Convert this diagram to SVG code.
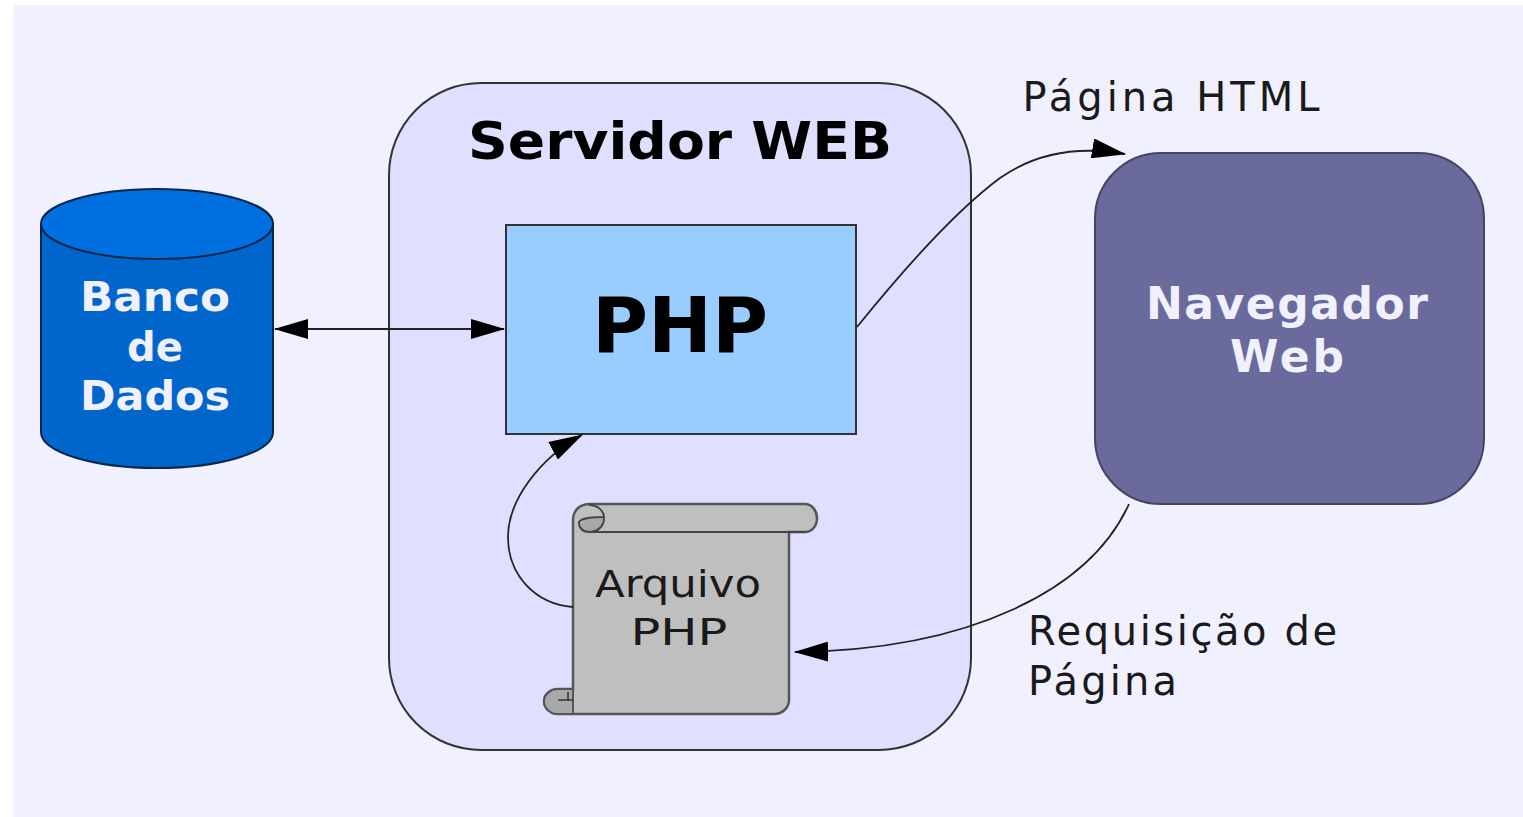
<svg xmlns="http://www.w3.org/2000/svg" width="1523" height="817" viewBox="0 0 1523 817">
<defs>
<marker id="ah" viewBox="0 0 34 20" refX="33" refY="10" markerWidth="34" markerHeight="20" markerUnits="userSpaceOnUse" orient="auto-start-reverse"><path d="M0 0L34 10L0 20Z" fill="#000"/></marker>
</defs>
<style>
text{font-family:"DejaVu Sans","Liberation Sans",sans-serif;text-anchor:middle}
.b{font-weight:700}
.c{fill:none;stroke:#222;stroke-width:1.8}
.o{stroke:#333;stroke-width:2}
</style>
<rect width="1523" height="817" fill="#fff"/>
<rect x="13" y="5" width="1510" height="812" fill="#f0f0ff"/>
<g id="servidor">
<rect class="o" x="389" y="83" width="582" height="667" rx="92" ry="92" fill="#dfdfff"/>
<text class="b" x="680" y="159" font-size="52" fill="#000" textLength="424" lengthAdjust="spacingAndGlyphs">Servidor WEB</text>
</g>
<g id="php">
<rect class="o" x="506" y="225" width="350" height="209" fill="#99ccff"/>
<text class="b" x="680" y="352" font-size="76" fill="#000" textLength="176" lengthAdjust="spacingAndGlyphs">PHP</text>
</g>
<g id="banco">
<path d="M41 224V432C41 452 93 468 157 468S273 452 273 432V224Z" fill="#0066cc" stroke="#06284d" stroke-width="2"/>
<ellipse cx="157" cy="224" rx="116" ry="35" fill="#0070e0" stroke="#06284d" stroke-width="2"/>
<text class="b" x="155" y="311" font-size="40" fill="#f0f0ff" textLength="150" lengthAdjust="spacingAndGlyphs">Banco</text>
<text class="b" x="155" y="361" font-size="40" fill="#f0f0ff">de</text>
<text class="b" x="155" y="410" font-size="40" fill="#f0f0ff" textLength="150" lengthAdjust="spacingAndGlyphs">Dados</text>
</g>
<g id="navegador">
<rect x="1095" y="153" width="389" height="351" rx="66" ry="66" fill="#6a6a9c" stroke="#444466" stroke-width="2"/>
<text class="b" x="1287" y="319" font-size="44" fill="#f0f0ff" textLength="282" lengthAdjust="spacing">Navegador</text>
<text class="b" x="1287" y="372" font-size="44" fill="#f0f0ff" textLength="114" lengthAdjust="spacing">Web</text>
</g>
<g id="arquivo">
<path d="M573 520C573 510 580 504 590 504H805C812 504 817 511 817 518C817 526 812 532 805 532H789V700C789 708 782 714 774 714H558C550 714 544 708 544 701C544 695 550 689 558 689H573Z" fill="#bfbfbf" stroke="#555" stroke-width="2.5"/>
<path d="M581 531C578 524 584 519 592 518L603 517C603 526 597 532 589 532Z" fill="#a8a8a8"/>
<path d="M589 532H805M589 505C598 505 604 511 604 518C604 527 597 532 589 532C582 532 579 527 579 523C579 519 590 517 603 517" fill="none" stroke="#444" stroke-width="2"/>
<path d="M558 689H573V714H558C550 714 544 708 544 701C544 695 550 689 558 689Z" fill="#a8a8a8" stroke="#555" stroke-width="2"/>
<path d="M558 700H573M568 692V700" fill="none" stroke="#333" stroke-width="1.6"/>
<text x="678" y="597" font-size="38" fill="#1a1a1a" textLength="166" lengthAdjust="spacingAndGlyphs">Arquivo</text>
<text x="679" y="645" font-size="38" fill="#1a1a1a" textLength="97" lengthAdjust="spacingAndGlyphs">PHP</text>
</g>
<g id="connectors">
<path class="c" d="M275 329H504" marker-start="url(#ah)" marker-end="url(#ah)"/>
<path class="c" d="M857 327C895 280 950 215 1000 178C1040 150 1085 147 1125 154" marker-end="url(#ah)"/>
<path class="c" d="M1129 504C1090 590 970 650 795 652" marker-end="url(#ah)"/>
<path class="c" d="M573 607C535 604 508 575 508 537C508 500 540 458 582 435" marker-end="url(#ah)"/>
</g>
<g id="labels">
<text x="1171" y="111" font-size="40" fill="#1a1a1a" textLength="297" lengthAdjust="spacing">Página HTML</text>
<text x="1028" y="645" font-size="40" fill="#1a1a1a" style="text-anchor:start" textLength="309" lengthAdjust="spacing">Requisição de</text>
<text x="1028" y="695" font-size="40" fill="#1a1a1a" style="text-anchor:start" textLength="149" lengthAdjust="spacing">Página</text>
</g>
</svg>
